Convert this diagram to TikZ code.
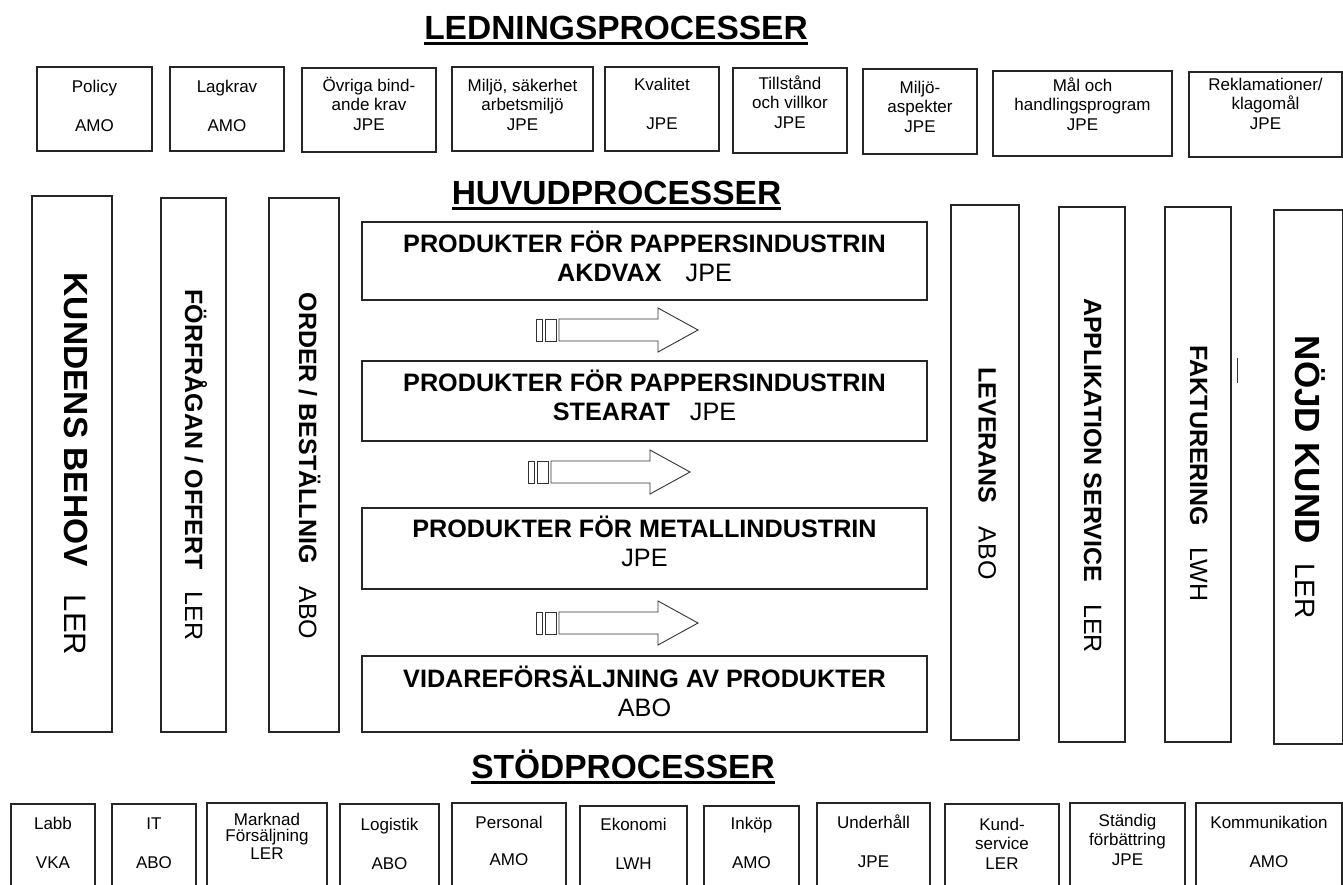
\documentclass[tikz,border=0pt]{standalone}
\usepackage{fontspec}
\setmainfont{Liberation Sans}
\usetikzlibrary{fit}
\newcommand{\mlines}[1]{\begin{tabular}[t]{@{}c@{}}#1\end{tabular}}
% name, x1, y1, x2, y2, first baseline, text
\newcommand{\pbx}[7]{%
  \node[pbox, fit={(#2,#3)(#4,#5)}] (#1) {};
  \path (#1.north) ++(0,{#6-#3}) node[ltxt, anchor=base] (#1t) {\mlines{#7}};
}
\newcommand{\vcol}[5]{\node[pbox, fit={(#2,#3)(#4,#5)}] (#1) {};}
\newcommand{\stripearrow}[2]{%
  \draw[arrowshape] (#1,{#2-11}) rectangle ++(6,22);
  \draw[arrowshape] ({#1+9},{#2-11}) rectangle ++(11,22);
  \draw[arrowshape] ({#1+23},{#2-11}) -- ++(99,0) -- ++(0,-11) -- ({#1+162},#2)
     -- ({#1+122},{#2+22}) -- ++(0,-11) -- ({#1+23},{#2+11}) -- cycle;
}
\begin{document}
\begin{tikzpicture}[x=1pt,y=-1pt,
  pbox/.style={draw=black!85, line width=1.3pt, inner sep=0pt, outer sep=0pt},
  ltxt/.style={inner sep=0pt, font=\fontsize{17}{19.5}\selectfont},
  ttl/.style={inner sep=0pt, anchor=base, font=\fontsize{33.5}{40}\selectfont\bfseries},
  ul/.style={line width=3pt, black},
  ctxt/.style={inner sep=0pt, anchor=base, font=\fontsize{25.2}{29.5}\selectfont},
  vtxt/.style={inner sep=0pt, rotate=-90, text height=18pt, text depth=0pt, font=\fontsize{25}{30}\selectfont},
  arrowshape/.style={draw=black!80, line width=0.9pt, fill=white},
]
\useasboundingbox (0,0) rectangle (1343,884);
\clip (0,0) rectangle (1343,884);
\fill[white] (0,0) rectangle (1343,884);

% titles
\node[ttl] (ledn) at (616,39) {LEDNINGSPROCESSER};
\draw[ul] ([yshift=-4.5pt]ledn.base west) -- ([yshift=-4.5pt]ledn.base east);
\node[ttl] (huvud) at (616.5,204) {HUVUDPROCESSER};
\draw[ul] ([yshift=-4.5pt]huvud.base west) -- ([yshift=-4.5pt]huvud.base east);
\node[ttl] (stod) at (623,778) {STÖDPROCESSER};
\draw[ul] ([yshift=-4.5pt]stod.base west) -- ([yshift=-4.5pt]stod.base east);

% top row
\pbx{t1}{37}{67}{152}{151}{92}{Policy\\ \\AMO}
\pbx{t2}{170}{67}{284}{151}{92}{Lagkrav\\ \\AMO}
\pbx{t3}{302}{68}{436}{152}{91}{Övriga bind-\\ande krav\\JPE}
\pbx{t4}{452}{67}{593}{151}{91}{Miljö, säkerhet\\arbetsmiljö\\JPE}
\pbx{t5}{605}{67}{719}{151}{90}{Kvalitet\\ \\JPE}
\pbx{t6}{733}{68}{847}{153}{89}{Tillstånd\\och villkor\\JPE}
\pbx{t7}{863}{69}{977}{154}{93}{Miljö-\\aspekter\\JPE}
\pbx{t8}{993}{71}{1172}{156}{91}{Mål och\\handlingsprogram\\JPE}
\pbx{t9}{1189}{72}{1342}{157}{90}{Reklamationer/\\klagomål\\JPE}

% vertical columns
\vcol{kb}{32}{196}{112}{732}
\vcol{ff}{161}{198}{226}{732}
\vcol{ob}{269}{198}{339}{732}
\vcol{lv}{951}{205}{1019}{740}
\vcol{ap}{1059}{207}{1125}{742}
\vcol{fk}{1165}{207}{1231}{742}
\vcol{nk}{1274}{210}{1343}{744}

\node[vtxt, font=\fontsize{33.5}{40}\selectfont, text height=24pt] (kbt) at (76,464)
  {\textbf{KUNDENS BEHOV}\hspace{28pt}{\fontsize{31}{36}\selectfont LER}};
\node[vtxt] (fft) at (194,465) {\textbf{FÖRFRÅGAN / OFFERT}\hspace{22pt}LER};
\node[vtxt] (obt) at (308,466) {\textbf{ORDER / BESTÄLLNIG}\hspace{23pt}ABO};
\node[vtxt] (lvt) at (987.5,473.5) {\textbf{LEVERANS}\hspace{23pt}ABO};
\node[vtxt] (apt) at (1093,475.5) {\textbf{APPLIKATION SERVICE}\hspace{22pt}LER};
\node[vtxt] (fkt) at (1199,473.5) {\textbf{FAKTURERING}\hspace{21pt}LWH};
\node[vtxt, font=\fontsize{35}{42}\selectfont, text height=25pt] (nkt) at (1307.5,477)
  {\textbf{NÖJD KUND}\hspace{20pt}{\fontsize{28}{34}\selectfont LER}};
\draw[line width=1pt, black!80] (1237,358) -- (1237,383);

% central process boxes
\vcol{c1}{362}{222}{927}{300}
\path (c1.north) ++(0,30) node[ctxt] (c1t) {\mlines{\textbf{PRODUKTER FÖR PAPPERSINDUSTRIN}\\\textbf{AKDVAX}\hspace{24pt}JPE}};
\vcol{c2}{362}{361}{927}{441}
\path (c2.north) ++(0,30) node[ctxt] (c2t) {\mlines{\textbf{PRODUKTER FÖR PAPPERSINDUSTRIN}\\\textbf{STEARAT}\hspace{20pt}JPE}};
\vcol{c3}{362}{508}{927}{589}
\path (c3.north) ++(0,29) node[ctxt] (c3t) {\mlines{\textbf{PRODUKTER FÖR METALLINDUSTRIN}\\JPE}};
\vcol{c4}{362}{656}{927}{732}
\path (c4.north) ++(0,31) node[ctxt] (c4t) {\mlines{\textbf{VIDAREFÖRSÄLJNING AV PRODUKTER}\\ABO}};

% striped arrows
\stripearrow{536}{330}
\stripearrow{528}{472}
\stripearrow{536}{623}

% bottom row
\pbx{b1}{11}{804}{95}{905}{829}{Labb\\[0.5pt] \\VKA}
\pbx{b2}{112}{804}{196}{905}{829}{IT\\[0.5pt] \\ABO}
\pbx{b3}{207}{803}{327}{905}{825}{Marknad\\[-3pt]Försäljning\\[-2pt]LER}
\pbx{b4}{340}{804}{439}{905}{830}{Logistik\\[0.5pt] \\ABO}
\pbx{b5}{452}{803}{566}{905}{828}{Personal\\[-1.5pt] \\AMO}
\pbx{b6}{580}{806}{687}{905}{830}{Ekonomi\\[0.5pt] \\LWH}
\pbx{b7}{704}{806}{799}{905}{829}{Inköp\\[0.5pt] \\AMO}
\pbx{b8}{817}{803}{930}{905}{828}{Underhåll\\[0.5pt] \\JPE}
\pbx{b9}{945}{804}{1059}{905}{830}{Kund-\\service\\LER}
\pbx{b10}{1070}{803}{1185}{905}{826}{Ständig\\förbättring\\JPE}
\pbx{b11}{1196}{803}{1342}{905}{828}{Kommunikation\\[0.5pt] \\AMO}
\end{tikzpicture}
\end{document}
